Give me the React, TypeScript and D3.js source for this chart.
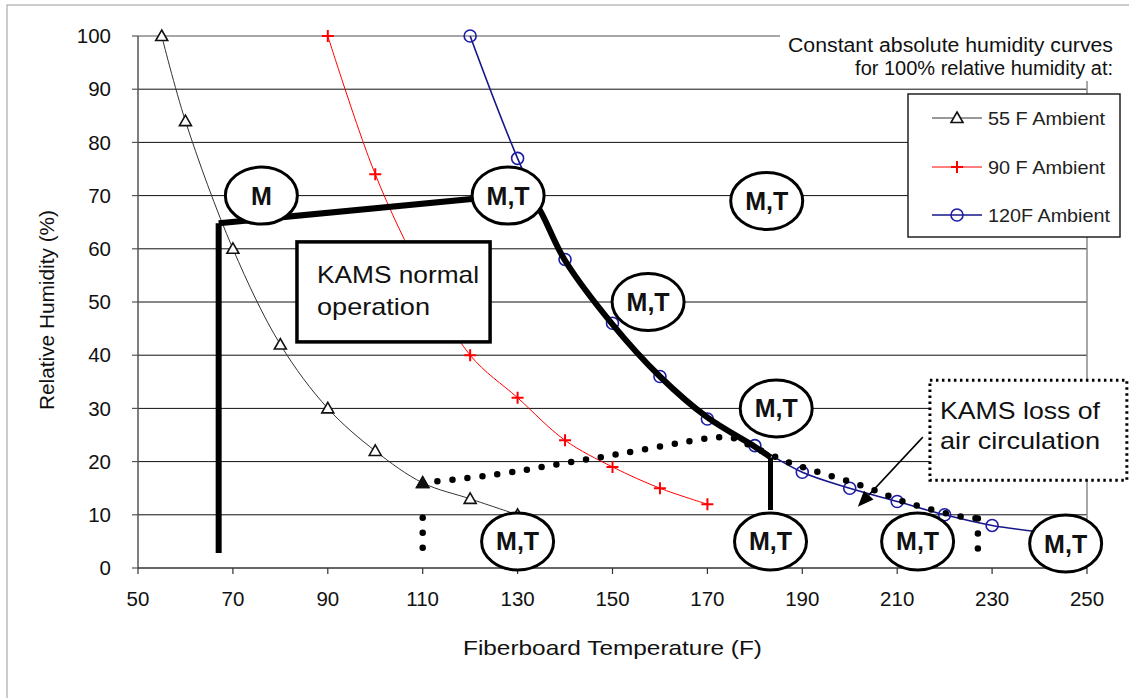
import React from "react";
import * as d3 from "d3";

// Constant absolute humidity curves (fiberboard temperature F, relative humidity %)
const ambient55T = [55, 60, 70, 80, 90, 100, 110, 120, 130];
const ambient55RH = [100, 84, 60, 42, 30, 22, 16, 13, 10];

const ambient90T = [90, 100, 110, 120, 130, 140, 150, 160, 170];
const ambient90RH = [100, 74, 55, 40, 32, 24, 19, 15, 12];

const ambient120T = [120, 130, 140, 150, 160, 170, 180, 190, 200, 210, 220, 230, 240];
const ambient120RH = [100, 77, 58, 46, 36, 28, 23, 18, 15, 12.5, 10, 8, 6.8];

// KAMS normal operation envelope
const normalVertical = [[67, 2.8], [67, 64.8]];
const normalTop = [[67, 64.8], [128, 70]];
const normalCurve = [[131, 71], [134, 68.3], [140, 57.8], [150, 45.8], [160, 36], [170, 28.3], [180, 22.8], [183.3, 20.8]];
const normalDrop = [[183.3, 20.8], [183.3, 10.9]];

// KAMS loss of air circulation path
const lossRise = [[110, 3.8], [110, 12.2]];
const lossPath = [
  [110, 16], [125.7, 17.6], [138.5, 19.5], [151.2, 21.4], [164, 23.5], [170.5, 24.4],
  [175, 24.5], [180, 22.6], [187, 19.9], [192.7, 18.2], [199, 16.5], [205, 14.7],
  [211, 12.6], [217.5, 10.9], [224, 9.6], [227, 9.3],
];
const lossDrop = [[227, 9.3], [227, 3.2]];

// Operating zone labels
const zoneT = [76, 128, 182.5, 157.5, 184.5, 130, 183.3, 214.3, 245.5];
const zoneRH = [70, 70, 69, 50, 30, 5, 5, 5, 4.6];
const zoneLabels = ["M", "M,T", "M,T", "M,T", "M,T", "M,T", "M,T", "M,T", "M,T"];

const xTicks = [50, 70, 90, 110, 130, 150, 170, 190, 210, 230, 250];
const yTicks = [0, 10, 20, 30, 40, 50, 60, 70, 80, 90, 100];

const legendLabels = ["55 F Ambient", "90 F Ambient", "120F Ambient"];

const FONT = "'Liberation Sans', Arial, sans-serif";

const x = d3.scaleLinear().domain([50, 250]).range([138, 1087]);
const y = d3.scaleLinear().domain([0, 100]).range([568, 36]);

const zip = (a: number[], b: number[]) => a.map((v, i) => [v, b[i]] as [number, number]);

const smooth = d3
  .line<[number, number]>()
  .x((d) => x(d[0]))
  .y((d) => y(d[1]))
  .curve(d3.curveCatmullRom.alpha(0.5));
const straight = d3
  .line<[number, number]>()
  .x((d) => x(d[0]))
  .y((d) => y(d[1]));

function Triangle({ cx, cy, fill = "white" }: { cx: number; cy: number; fill?: string }) {
  const p = `M${cx},${cy - 6} L${cx + 6},${cy + 4.5} L${cx - 6},${cy + 4.5} Z`;
  return <path d={p} fill={fill} stroke="#111" strokeWidth={1.6} />;
}
function Plus({ cx, cy }: { cx: number; cy: number }) {
  return (
    <path d={`M${cx - 6},${cy} H${cx + 6} M${cx},${cy - 6} V${cy + 6}`} stroke="#ff0000" strokeWidth={2} />
  );
}
function Ring({ cx, cy }: { cx: number; cy: number }) {
  return <circle cx={cx} cy={cy} r={6} fill="none" stroke="#1c1ca8" strokeWidth={1.6} />;
}

export default function App() {
  const s55 = zip(ambient55T, ambient55RH);
  const s90 = zip(ambient90T, ambient90RH);
  const s120 = zip(ambient120T, ambient120RH);

  const normalBox = { x0: 83.5, x1: 124.2, y0: 61.3, y1: 42.5 };
  const lossBox = { x0: 216.9, x1: 258.4, y0: 35.3, y1: 16.5 };

  // arrow from the loss box toward the dotted path
  const arrowFrom = [215.4, 24.6];
  const arrowTo = [201.7, 11.5];
  const ax0 = x(arrowFrom[0]), ay0 = y(arrowFrom[1]);
  const ax1 = x(arrowTo[0]), ay1 = y(arrowTo[1]);
  const ang = Math.atan2(ay1 - ay0, ax1 - ax0);
  const hl = 16, hw = 6.5;
  const bx = ax1 - hl * Math.cos(ang), by = ay1 - hl * Math.sin(ang);
  const head = `M${ax1},${ay1} L${bx + hw * Math.sin(ang)},${by - hw * Math.cos(ang)} L${bx - hw * Math.sin(ang)},${by + hw * Math.cos(ang)} Z`;

  const legendRows = [118, 167, 215];
  const legendWidths = [117, 117, 122];

  return (
    <svg
      width={1129}
      height={698}
      style={{ position: "absolute", left: 0, top: 0, background: "white" }}
      fontFamily={FONT}
    >
      {/* outer frame */}
      <rect x={7} y={5} width={1140} height={710} fill="white" stroke="#9a9a9a" strokeWidth={1} />

      {/* gridlines */}
      {yTicks.filter((t) => t > 0 && t < 100).map((t) => (
        <line key={t} x1={x(50)} x2={x(250)} y1={y(t)} y2={y(t)} stroke="#111" strokeWidth={1} />
      ))}
      <line x1={x(50)} x2={x(250)} y1={y(100)} y2={y(100)} stroke="#8a8a8a" strokeWidth={1.5} />
      <line x1={x(250)} x2={x(250)} y1={y(100)} y2={y(0)} stroke="#8a8a8a" strokeWidth={1.5} />

      {/* axes */}
      <line x1={x(50)} x2={x(50)} y1={y(100)} y2={y(0)} stroke="#555" strokeWidth={1.5} />
      <line x1={x(50)} x2={x(250)} y1={y(0)} y2={y(0)} stroke="#333" strokeWidth={1.5} />
      {yTicks.map((t) => (
        <g key={t}>
          <line x1={x(50) - 6} x2={x(50)} y1={y(t)} y2={y(t)} stroke="#555" strokeWidth={1.2} />
          <text x={111} y={y(t)} dy="0.35em" textAnchor="end" fontSize={20.5} fill="#111">
            {t}
          </text>
        </g>
      ))}
      {xTicks.map((t) => (
        <g key={t}>
          <line x1={x(t)} x2={x(t)} y1={y(0)} y2={y(0) + 6} stroke="#333" strokeWidth={1.2} />
          <text x={x(t)} y={599} dy="0.35em" textAnchor="middle" fontSize={20.5} fill="#111">
            {t}
          </text>
        </g>
      ))}
      <text
        transform={`translate(47,${y(50) + 8}) rotate(-90)`}
        textAnchor="middle"
        dy="0.35em"
        fontSize={19.5}
        textLength={200}
        lengthAdjust="spacingAndGlyphs"
        fill="#111"
      >
        Relative Humidity (%)
      </text>
      <text
        x={463}
        y={648}
        dy="0.35em"
        fontSize={21}
        textLength={299}
        lengthAdjust="spacingAndGlyphs"
        fill="#111"
      >
        Fiberboard Temperature (F)
      </text>

      {/* constant absolute humidity curves */}
      <path d={smooth(s55) || ""} fill="none" stroke="#333" strokeWidth={1} />
      <path d={smooth(s90) || ""} fill="none" stroke="#ff0000" strokeWidth={1} />
      <path d={smooth(s120) || ""} fill="none" stroke="#16168a" strokeWidth={1.6} />
      {s55.map((d, i) => (
        <Triangle key={i} cx={x(d[0])} cy={y(d[1])} fill={d[0] === 110 ? "#111" : "white"} />
      ))}
      {s90.map((d, i) => (
        <Plus key={i} cx={x(d[0])} cy={y(d[1])} />
      ))}
      {s120.map((d, i) => (
        <Ring key={i} cx={x(d[0])} cy={y(d[1])} />
      ))}

      {/* KAMS normal operation envelope */}
      <path d={straight(normalVertical as [number, number][]) || ""} stroke="#000" strokeWidth={6} fill="none" />
      <path d={straight(normalTop as [number, number][]) || ""} stroke="#000" strokeWidth={6} fill="none" />
      <path d={smooth(normalCurve as [number, number][]) || ""} stroke="#000" strokeWidth={6} fill="none" />
      <path d={straight(normalDrop as [number, number][]) || ""} stroke="#000" strokeWidth={5} fill="none" />

      {/* KAMS loss of air circulation path */}
      {[lossRise, lossDrop].map((seg, i) => (
        <path
          key={i}
          d={straight(seg as [number, number][]) || ""}
          stroke="#000"
          strokeWidth={6.5}
          strokeLinecap="round"
          strokeDasharray="0 15"
          fill="none"
        />
      ))}
      <path
        d={smooth(lossPath as [number, number][]) || ""}
        stroke="#000"
        strokeWidth={6.5}
        strokeLinecap="round"
        strokeDasharray="0 15"
        fill="none"
      />
      <Triangle cx={x(110)} cy={y(16)} fill="#111" />

      {/* text boxes */}
      <rect
        x={x(normalBox.x0)}
        y={y(normalBox.y0)}
        width={x(normalBox.x1) - x(normalBox.x0)}
        height={y(normalBox.y1) - y(normalBox.y0)}
        fill="white"
        stroke="#000"
        strokeWidth={3.5}
      />
      <text x={317} y={y(normalBox.y0) + 33} dy="0.35em" fontSize={24} textLength={162} lengthAdjust="spacingAndGlyphs" fill="#111">
        KAMS normal
      </text>
      <text x={317} y={y(normalBox.y0) + 65} dy="0.35em" fontSize={24} textLength={113} lengthAdjust="spacingAndGlyphs" fill="#111">
        operation
      </text>

      <rect
        x={x(lossBox.x0)}
        y={y(lossBox.y0)}
        width={x(lossBox.x1) - x(lossBox.x0)}
        height={y(lossBox.y1) - y(lossBox.y0)}
        fill="white"
        stroke="#000"
        strokeWidth={3}
        strokeDasharray="2.5 3.5"
      />
      <text x={940} y={y(lossBox.y0) + 30} dy="0.35em" fontSize={24} textLength={160} lengthAdjust="spacingAndGlyphs" fill="#111">
        KAMS loss of
      </text>
      <text x={940} y={y(lossBox.y0) + 60} dy="0.35em" fontSize={24} textLength={160} lengthAdjust="spacingAndGlyphs" fill="#111">
        air circulation
      </text>

      {/* zone ellipses */}
      {zoneT.map((t, i) => (
        <g key={i}>
          <ellipse cx={x(t)} cy={y(zoneRH[i])} rx={36} ry={28.5} fill="white" stroke="#000" strokeWidth={3} />
          <text
            x={x(t)}
            y={y(zoneRH[i])}
            dy="0.36em"
            textAnchor="middle"
            fontSize={25}
            fontWeight="bold"
            fill="#111"
          >
            {zoneLabels[i]}
          </text>
        </g>
      ))}

      {/* arrow */}
      <line x1={ax0} y1={ay0} x2={bx} y2={by} stroke="#000" strokeWidth={1.5} />
      <path d={head} fill="#000" />

      {/* legend title */}
      <rect x={780} y={27} width={345} height={54} fill="white" />
      <text x={788} y={45} dy="0.35em" fontSize={20} textLength={325} lengthAdjust="spacingAndGlyphs" fill="#111">
        Constant absolute humidity curves
      </text>
      <text x={1113} y={68} dy="0.35em" textAnchor="end" fontSize={20} fill="#111">
        for 100% relative humidity at:
      </text>

      {/* legend */}
      <rect x={908} y={94} width={212} height={143} fill="white" stroke="#222" strokeWidth={1.5} />
      {legendLabels.map((lab, i) => {
        const ly = legendRows[i];
        const color = i === 0 ? "#333" : i === 1 ? "#ff0000" : "#16168a";
        return (
          <g key={lab}>
            <line x1={932} x2={982} y1={ly} y2={ly} stroke={color} strokeWidth={i === 2 ? 1.6 : 1} />
            {i === 0 && <Triangle cx={957} cy={ly} />}
            {i === 1 && <Plus cx={957} cy={ly} />}
            {i === 2 && <Ring cx={957} cy={ly} />}
            <text x={988} y={ly} dy="0.35em" fontSize={19} textLength={legendWidths[i]} lengthAdjust="spacingAndGlyphs" fill="#222">
              {lab}
            </text>
          </g>
        );
      })}
    </svg>
  );
}
